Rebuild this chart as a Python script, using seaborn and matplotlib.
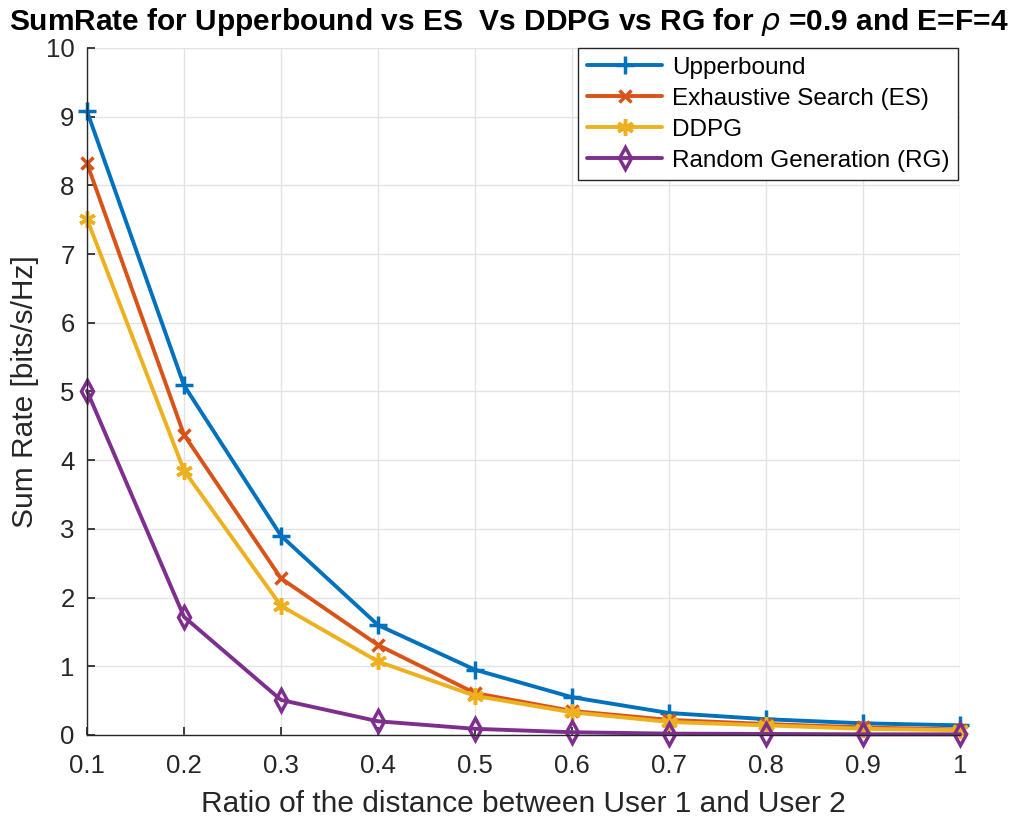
import matplotlib
matplotlib.use("Agg")
import matplotlib.pyplot as plt
import seaborn as sns
import pandas as pd

ratio = [0.1, 0.2, 0.3, 0.4, 0.5, 0.6, 0.7, 0.8, 0.9, 1.0]
upperbound = [9.08, 5.09, 2.90, 1.60, 0.95, 0.55, 0.32, 0.23, 0.17, 0.14]
es = [8.32, 4.37, 2.28, 1.31, 0.61, 0.35, 0.22, 0.16, 0.11, 0.08]
ddpg = [7.51, 3.85, 1.88, 1.07, 0.57, 0.33, 0.19, 0.14, 0.09, 0.07]
rg = [5.01, 1.72, 0.51, 0.20, 0.09, 0.04, 0.02, 0.015, 0.01, 0.01]
labels = ["Upperbound", "Exhaustive Search (ES)", "DDPG", "Random Generation (RG)"]
xticklabels = ["0.1", "0.2", "0.3", "0.4", "0.5", "0.6", "0.7", "0.8", "0.9", "1"]

sns.set_theme(style="whitegrid")
plt.rcParams['font.family'] = ['Liberation Sans', 'DejaVu Sans']
plt.rcParams['mathtext.fontset'] = 'dejavusans'

fig = plt.figure(figsize=(10.16, 8.21), dpi=100)
ax = fig.add_axes([87/1016, 1-735/821, (960-87)/1016, (735-48)/821])

colors = ["#0072BD", "#D95319", "#EDB120", "#7E2F8E"]
markers = ['+', 'x', (6, 2, 0), 'd']
msizes = [13, 9, 12, 11]
series = [upperbound, es, ddpg, rg]

for vals, lab, c, m, ms in zip(series, labels, colors, markers, msizes):
    df = pd.DataFrame({"x": ratio, "y": vals})
    kw = dict(marker=m, markersize=ms, markeredgewidth=2.5, color=c, linewidth=2.8,
              label=lab, clip_on=False)
    if m == 'd':
        kw.update(markerfacecolor='none', markeredgecolor=c)
    else:
        kw.update(markeredgecolor=c, markerfacecolor=c)
    sns.lineplot(data=df, x="x", y="y", ax=ax, **kw)

ax.set_xlim(0.1, 1.0)
ax.set_ylim(0, 10)
ax.set_xticks(ratio)
ax.set_xticklabels(xticklabels)
ax.set_yticks(range(0, 11))
ax.tick_params(labelsize=18.5, colors="#262626", length=6, direction='in', bottom=True, left=True)
ax.tick_params(axis='x', pad=14)
ax.tick_params(axis='y', pad=9)
ax.grid(True, color="#e3e3e3", linewidth=1)
for s in ['left', 'bottom']:
    ax.spines[s].set_color("#262626")
    ax.spines[s].set_linewidth(1)
for s in ['top', 'right']:
    ax.spines[s].set_visible(False)
ax.set_facecolor("white")

ax.set_xlabel("Ratio of the distance between User 1 and User 2", fontsize=21.5, color="#262626", labelpad=8)
ax.set_ylabel("Sum Rate [bits/s/Hz]", fontsize=21.5, color="#262626", labelpad=5)
fig.text(509/1016, 1-22/821, r"SumRate for Upperbound vs ES  Vs DDPG vs RG for $\rho$ =0.9 and E=F=4",
         fontsize=21.5, fontweight='bold', ha='center', va='center', color='black')

leg = ax.legend(loc="upper right", fontsize=17.5, frameon=True, fancybox=False,
                edgecolor="#262626", framealpha=1, borderaxespad=0.0,
                handlelength=3.1, labelspacing=0.37, borderpad=0.35, handletextpad=0.4,
                bbox_to_anchor=(958/1016, 1-48/821), bbox_transform=fig.transFigure)
leg.get_frame().set_linewidth(1)
for t in leg.get_texts():
    t.set_color('black')

fig.savefig("out.png", dpi=100, facecolor="white")
